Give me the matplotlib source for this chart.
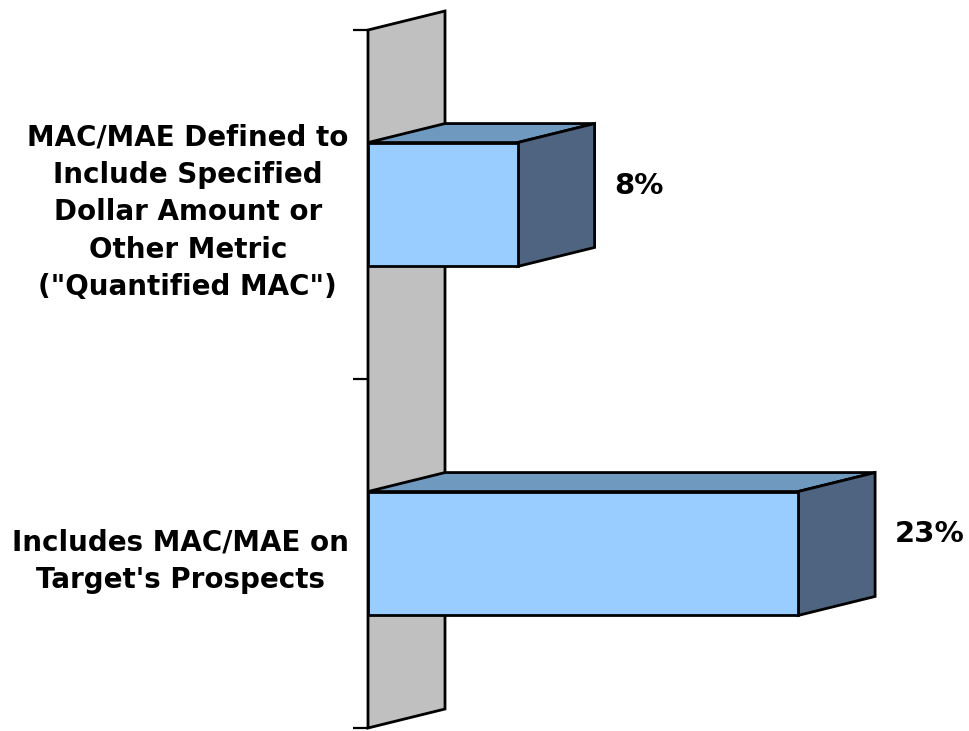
import matplotlib
matplotlib.use("Agg")
import matplotlib.pyplot as plt
from matplotlib.patches import Polygon

# ---- data -------------------------------------------------------------
categories = [
    'MAC/MAE Defined to\nInclude Specified\nDollar Amount or\nOther Metric\n("Quantified MAC")',
    "Includes MAC/MAE on\nTarget's Prospects",
]
values = [8, 23]
value_labels = ["8%", "23%"]

# ---- style ------------------------------------------------------------
FRONT = "#99CCFF"
TOP = "#7099C0"
SIDE = "#4F6480"
WALL = "#C0C0C0"
EDGE = "black"
LW = 2.0
FONT = dict(family="DejaVu Sans", weight="bold", size=20)

W, H, DPI = 969, 731, 100
fig = plt.figure(figsize=(W / DPI, H / DPI), dpi=DPI)

# front plane of the plot area (pixels)
x0_px, x1_px = 368, 929
y_top_px, y_bot_px = 30, 728
ax = fig.add_axes([x0_px / W, 1 - y_bot_px / H,
                   (x1_px - x0_px) / W, (y_bot_px - y_top_px) / H])
XMAX = 30
ax.set_xlim(0, XMAX)
ax.set_ylim(len(categories) - 0.5, -0.5)

# perspective depth offset, pixels -> data units
DEPTH_X_PX, DEPTH_Y_PX = 77, 19
dx = DEPTH_X_PX * XMAX / (x1_px - x0_px)
dy = DEPTH_Y_PX * len(categories) / (y_bot_px - y_top_px)
bar_h = 0.355

def poly(pts, color, z):
    ax.add_patch(Polygon(pts, closed=True, facecolor=color, edgecolor=EDGE,
                         linewidth=LW, joinstyle="miter", clip_on=False,
                         zorder=z))

# side wall
lo, hi = -0.5, len(categories) - 0.5
poly([(0, lo), (dx, lo - dy), (dx, hi - dy), (0, hi)], WALL, 1)

# 3-D bars
for i, v in enumerate(values):
    t, b = i - bar_h / 2, i + bar_h / 2
    poly([(0, t), (v, t), (v + dx, t - dy), (dx, t - dy)], TOP, 2)
    poly([(v, t), (v + dx, t - dy), (v + dx, b - dy), (v, b)], SIDE, 2)
    poly([(0, t), (v, t), (v, b), (0, b)], FRONT, 3)
    ax.annotate(value_labels[i], xy=(v, i),
                xytext=(DEPTH_X_PX + 20, DEPTH_Y_PX), textcoords="offset pixels",
                ha="left", va="center", annotation_clip=False,
                family="DejaVu Sans", weight="bold", size=21)

# axis: category labels and tick marks between categories
for s in ax.spines.values():
    s.set_visible(False)
ax.set_xticks([])
ax.set_yticks(range(len(categories)))
ax.set_yticklabels(categories, multialignment="center", linespacing=1.43, **FONT)
ax.tick_params(axis="y", which="major", length=0, pad=14)
ax.set_yticks([k - 0.5 for k in range(len(categories) + 1)], minor=True)
ax.tick_params(axis="y", which="minor", length=10.8, width=1.6, color="black")
ax.patch.set_visible(False)

fig.savefig("out.png", dpi=DPI)
